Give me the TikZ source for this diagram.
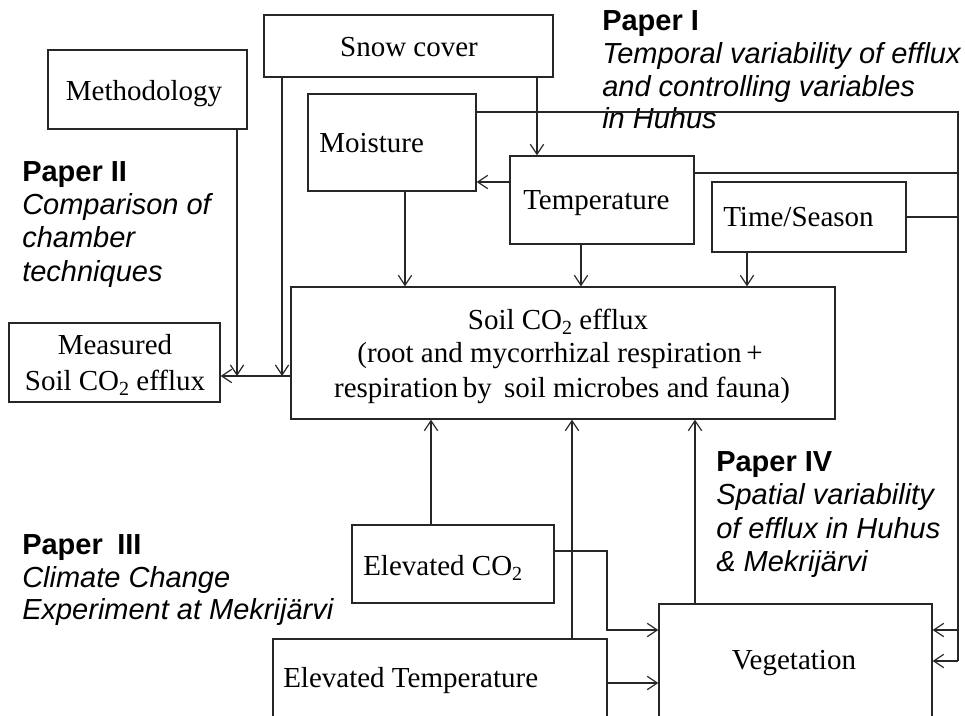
\documentclass[tikz,border=0pt]{standalone}
\usepackage{fontspec}
\setmainfont{Liberation Serif}
\newfontfamily\arialfont{Liberation Sans}
\usetikzlibrary{arrows.meta,fit}
\begin{document}
\begin{tikzpicture}[x=0.75pt,y=-0.75pt,
  box/.style={draw=black!85,line width=1pt,inner sep=0pt,fit={#1}},
  conn/.style={draw=black!85,line width=0.9pt},
  arr/.style={conn,-{Straight Barb[length=7.5pt,width=10pt,line width=0.9pt]}},
  boxtxt/.style={font=\fontsize{21.75}{26}\selectfont,inner sep=0pt},
  ptitle/.style={font=\arialfont\bfseries\fontsize{21.75}{26}\selectfont,inner sep=0pt,anchor=base west},
  psub/.style={font=\arialfont\itshape\fontsize{21.75}{26}\selectfont,inner sep=0pt,anchor=base west}]
\useasboundingbox (0,0) rectangle (965,716);
\clip (0,0) rectangle (965,716);
\fill[white] (0,0) rectangle (965,716);

% boxes
\node[box={(264,15) (553,77)}] (snow) {};
\node[box={(48,50) (247,129)}] (meth) {};
\node[box={(308,94) (476,191)}] (moist) {};
\node[box={(510,156) (694,244)}] (temp) {};
\node[box={(712,182) (906,252)}] (time) {};
\node[box={(291,287) (835,419)}] (soil) {};
\node[box={(9,323) (220,402)}] (meas) {};
\node[box={(352,525) (554,603)}] (eco) {};
\node[box={(273,639) (607,740)}] (etemp) {};
\node[box={(659,604) (932,740)}] (veg) {};

% box texts
\node[boxtxt,anchor=base] (snowt) at (409,57) {Snow cover};
\node[boxtxt,anchor=base] (metht) at (144,101) {Methodology};
\node[boxtxt,anchor=base west] (moistt) at (319,153) {Moisture};
\node[boxtxt,anchor=base west] (tempt) at (523,210) {Temperature};
\node[boxtxt,anchor=base west] (timet) at (723,227) {Time/Season};
\node[boxtxt,anchor=base] (soilt1) at (558,330) {Soil CO\raisebox{-0.35ex}{\fontsize{15}{15}\selectfont 2} efflux};
\node[boxtxt,anchor=base] (soilt2) at (560,363) {(root and mycorrhizal respiration\,+};
\node[boxtxt,anchor=base] (soilt3) at (562,398) {respiration\,by\, soil microbes and fauna)};
\node[boxtxt,anchor=base] (meast1) at (115,355) {Measured};
\node[boxtxt,anchor=base] (meast2) at (115,391) {Soil CO\raisebox{-0.35ex}{\fontsize{15}{15}\selectfont 2} efflux};
\node[boxtxt,anchor=base west] (ecot) at (363,576) {Elevated CO\raisebox{-0.35ex}{\fontsize{15}{15}\selectfont 2}};
\node[boxtxt,anchor=base west] (etempt) at (283,688) {Elevated Temperature};
\node[boxtxt,anchor=base] (vegt) at (794,670) {Vegetation};

% paper labels
\node[ptitle] (p1a) at (602,31) {Paper I};
\node[psub] (p1b) at (602,64) {Temporal variability of efflux};
\node[psub] (p1c) at (602,97) {and controlling variables};
\node[psub] (p1d) at (602,129) {in Huhus};
\node[ptitle] (p2a) at (22,182) {Paper II};
\node[psub] (p2b) at (22,215) {Comparison of};
\node[psub] (p2c) at (22,248) {chamber};
\node[psub] (p2d) at (22,282) {techniques};
\node[ptitle] (p3a) at (22,555) {Paper\enspace III};
\node[psub] (p3b) at (22,588) {Climate Change};
\node[psub] (p3c) at (22,620) {Experiment at Mekrijärvi};
\node[ptitle] (p4a) at (716,472) {Paper IV};
\node[psub] (p4b) at (716,505) {Spatial variability};
\node[psub] (p4c) at (716,539) {of efflux in Huhus};
\node[psub] (p4d) at (716,572) {\& Mekrijärvi};

% coordinates for junctions
\coordinate (rx) at (958,0);
\coordinate (mjoin) at (291,376);

% connectors
\draw[arr] (537,0 |- snow.south) -- (537,0 |- temp.north);
\draw[arr] (282,0 |- snow.south) -- (282,376);
\draw[arr] (237,0 |- meth.south) -- (237,376);
\draw[arr] (mjoin) -- (meas.east |- mjoin);
\draw[arr] (temp.west |- 0,182) -- (moist.east |- 0,182);
\draw[arr] (405,0 |- moist.south) -- (405,0 |- soil.north);
\draw[arr] (581,0 |- temp.south) -- (581,0 |- soil.north);
\draw[arr] (747,0 |- time.south) -- (747,0 |- soil.north);

\draw[conn] (moist.east |- 0,112) -- (rx |- 0,112) -- (rx |- 0,661);
\draw[conn] (temp.east |- 0,173) -- (rx |- 0,173);
\draw[conn] (time.east |- 0,217) -- (rx |- 0,217);
\draw[arr] (rx |- 0,630) -- (veg.east |- 0,630);
\draw[arr] (rx |- 0,661) -- (veg.east |- 0,661);

\draw[arr] (431,0 |- eco.north) -- (431,0 |- soil.south);
\draw[arr] (572,0 |- etemp.north) -- (572,0 |- soil.south);
\draw[arr] (695,0 |- veg.north) -- (695,0 |- soil.south);
\draw[arr] (eco.east |- 0,551) -- (607,551) -- (607,630) -- (veg.west |- 0,630);
\draw[arr] (etemp.east |- 0,683) -- (veg.west |- 0,683);
\end{tikzpicture}
\end{document}
